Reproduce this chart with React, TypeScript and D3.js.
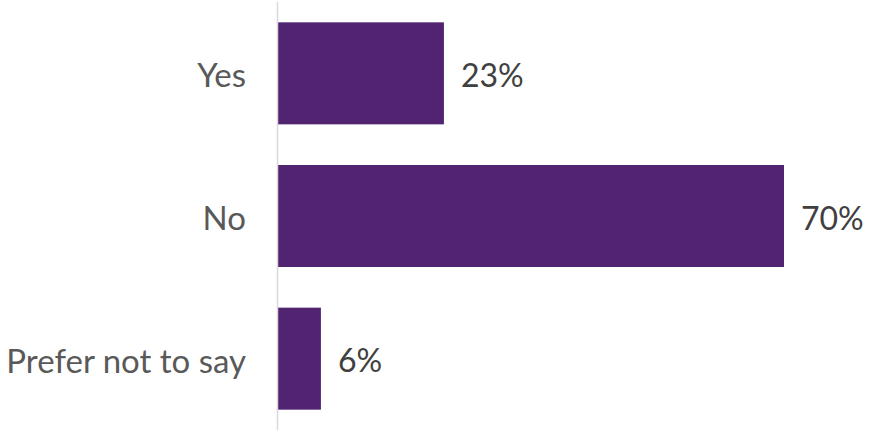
import React from "react";
import * as d3 from "d3";

const categories = ["Yes", "No", "Prefer not to say"];
const values = [23, 70, 6];
const valueLabels = ["23%", "70%", "6%"];

export default function App() {
  const width = 875;
  const height = 433;
  const x0 = 277.5;
  const x = d3.scaleLinear().domain([0, 70]).range([x0, 784]);
  const y = d3.scaleBand<string>().domain(categories).range([2, 430]).paddingInner(0.285).paddingOuter(0.1425);
  const font = "'Gill Sans', Lato, 'Open Sans', sans-serif";
  return (
    <svg width={width} height={height} style={{ position: "absolute", left: 0, top: 0 }}>
      <rect x={0} y={0} width={width} height={height} fill="#fff" />
      {categories.map((c, i) => (
        <g key={c}>
          <rect x={x0 + 0.5} y={y(c)!} width={x(values[i]) - x0 - 0.5} height={y.bandwidth()} fill="#522370" />
          <text x={246} y={y(c)! + y.bandwidth() / 2 + 1} textAnchor="end" dominantBaseline="central" fontFamily={font} fontSize={33} fill="#595959">{c}</text>
          <text x={x(values[i]) + 17} y={y(c)! + y.bandwidth() / 2 + 1} textAnchor="start" dominantBaseline="central" fontFamily={font} fontSize={32} fill="#404040">{valueLabels[i]}</text>
        </g>
      ))}
      <line x1={x0} x2={x0} y1={2} y2={430} stroke="#d9d9d9" strokeWidth={1.5} />
    </svg>
  );
}
